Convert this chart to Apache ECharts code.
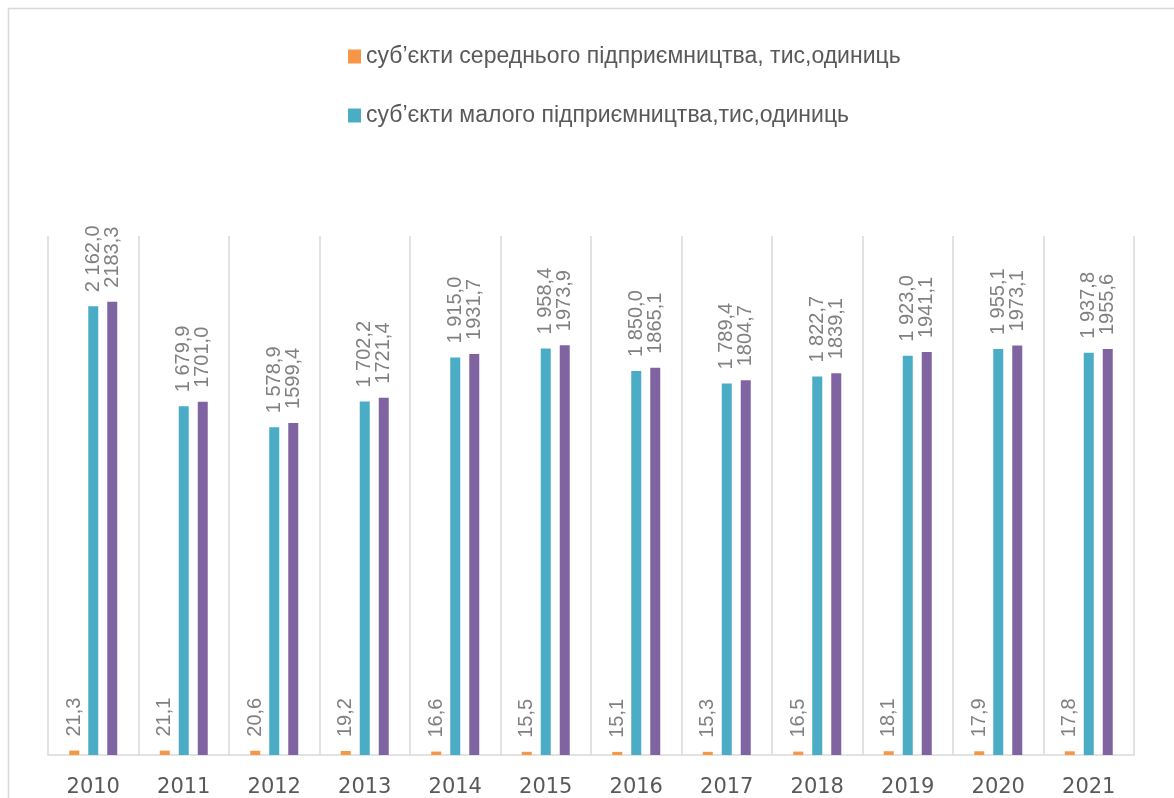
<!DOCTYPE html>
<html>
<head>
<meta charset="utf-8">
<script src="https://cdn.jsdelivr.net/npm/echarts@6/dist/echarts.min.js"></script>
<style>
html,body{margin:0;padding:0;background:#fff;}
#chart{width:1174px;height:798px;}
</style>
</head>
<body>
<div id="chart"></div>
<script>
const years = ['2010','2011','2012','2013','2014','2015','2016','2017','2018','2019','2020','2021'];
const mediumName = 'суб’єкти середнього підприємництва, тис,одиниць';
const smallName = 'суб’єкти малого підприємництва,тис,одиниць';
const totalName = 'суб’єкти малого та середнього підприємництва, тис,одиниць';
const mediumValues = [21.3, 21.1, 20.6, 19.2, 16.6, 15.5, 15.1, 15.3, 16.5, 18.1, 17.9, 17.8];
const smallValues = [2162.0, 1679.9, 1578.9, 1702.2, 1915.0, 1958.4, 1850.0, 1789.4, 1822.7, 1923.0, 1955.1, 1937.8];
const totalValues = [2183.3, 1701.0, 1599.4, 1721.4, 1931.7, 1973.9, 1865.1, 1804.7, 1839.1, 1941.1, 1973.1, 1955.6];

function fmtPlain(v){ return v.toFixed(1).replace('.', ','); }
function fmtSpaced(v){
  const s = v.toFixed(1).split('.');
  const intPart = s[0].replace(/\B(?=(\d{3})+(?!\d))/g, ' ');
  return intPart + ',' + s[1];
}

const labelBase = {
  show: true,
  position: 'top',
  rotate: 90,
  align: 'left',
  verticalAlign: 'middle',
  distance: 14,
  color: '#808080',
  fontFamily: 'Liberation Sans',
  fontSize: 20
};

const legendText = {color: '#595959', fontFamily: 'Liberation Sans', fontSize: 23};

const chart = echarts.init(document.getElementById('chart'), null, {renderer: 'canvas'});
chart.setOption({
  backgroundColor: '#ffffff',
  animation: false,
  graphic: [{
    type: 'rect',
    shape: {x: 8.5, y: 8.5, width: 1300, height: 1000},
    style: {fill: 'none', stroke: '#d9d9d9', lineWidth: 1.5},
    silent: true
  }],
  legend: [{
    data: [mediumName],
    left: 343, top: 40,
    orient: 'vertical',
    icon: 'rect', itemWidth: 13, itemHeight: 14,
    textStyle: legendText
  }, {
    data: [smallName],
    left: 343, top: 99,
    orient: 'vertical',
    icon: 'rect', itemWidth: 13, itemHeight: 14,
    textStyle: legendText
  }],
  grid: {left: 48, right: 40, top: 236, bottom: 38, containLabel: false},
  xAxis: {
    type: 'category',
    data: years,
    boundaryGap: true,
    axisLine: {show: true, lineStyle: {color: '#d9d9d9', width: 1.5}},
    axisTick: {show: false},
    splitLine: {show: true, lineStyle: {color: '#d9d9d9', width: 1.5}},
    axisLabel: {color: '#595959', fontFamily: 'DejaVu Sans', fontSize: 21, margin: 22}
  },
  yAxis: {
    type: 'value', min: 0, max: 2500,
    show: false,
    splitLine: {show: false}
  },
  series: [{
    name: mediumName, type: 'bar', data: mediumValues,
    barWidth: 10, barGap: '90%',
    itemStyle: {color: '#F79646'},
    label: Object.assign({}, labelBase, {formatter: p => fmtPlain(p.value)})
  }, {
    name: smallName, type: 'bar', data: smallValues,
    barWidth: 10, barGap: '90%',
    itemStyle: {color: '#4BACC6'},
    label: Object.assign({}, labelBase, {formatter: p => fmtSpaced(p.value)})
  }, {
    name: totalName, type: 'bar', data: totalValues,
    barWidth: 10, barGap: '90%',
    itemStyle: {color: '#8064A2'},
    label: Object.assign({}, labelBase, {formatter: p => fmtPlain(p.value)})
  }]
});
</script>
</body>
</html>
